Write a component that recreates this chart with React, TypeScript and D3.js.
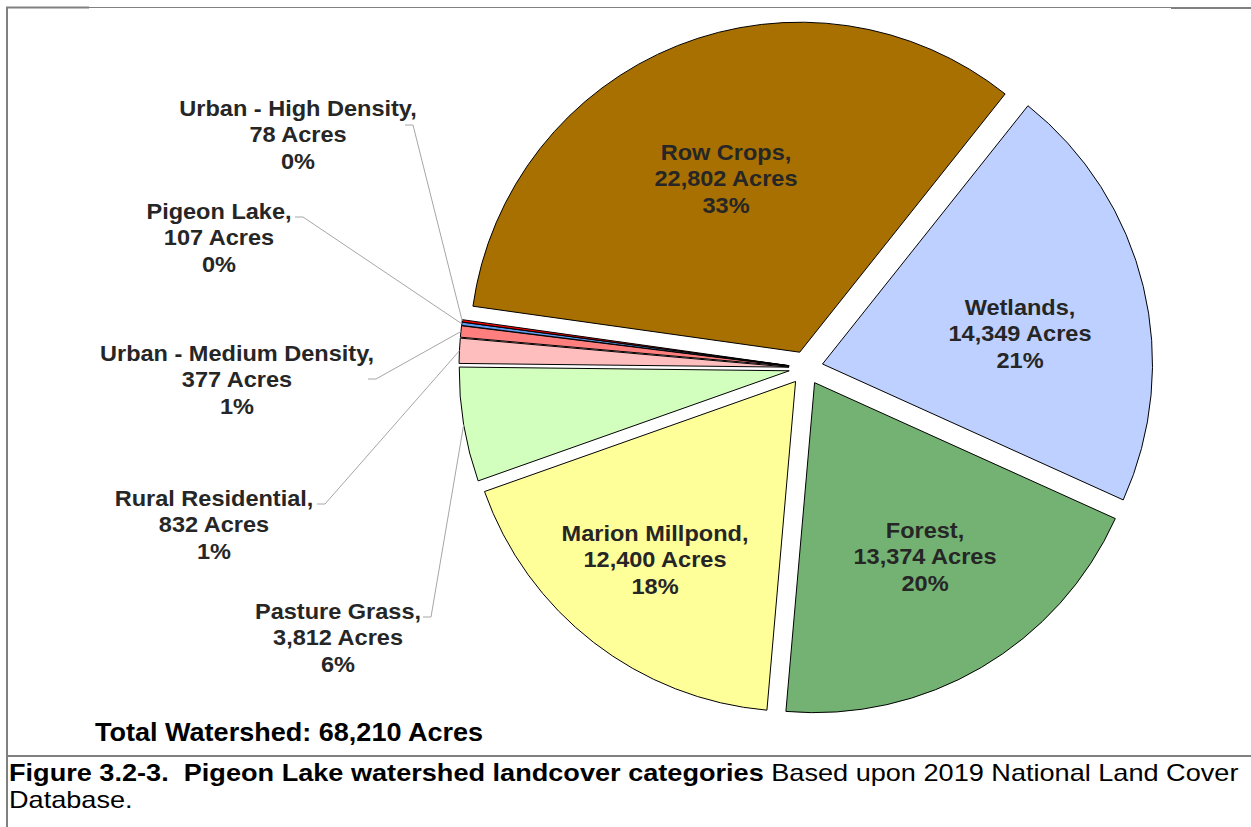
import React from "react";
import * as d3 from "d3";

// landcover categories, in the order they run clockwise from the Wetlands edge
const categories = [
  "Wetlands",
  "Forest",
  "Marion Millpond",
  "Pasture Grass",
  "Rural Residential",
  "Urban - Medium Density",
  "Pigeon Lake",
  "Urban - High Density",
  "Row Crops",
];
const acres = [14349, 13374, 12400, 3812, 832, 377, 107, 78, 22802];
const totalAcres = 68210;
const sliceColors = [
  "#BDD0FF",
  "#73B273",
  "#FFFF99",
  "#D3FFBE",
  "#FFBEBE",
  "#FF7F7F",
  "#5B9BF0",
  "#FF0000",
  "#A87000",
];

// label placement (Excel manual positions): text centre x, first line y,
// and for outside labels where the leader line leaves the text
const labelLayout: Record<string, { x: number; y: number; lead?: [number, number] }> = {
  Wetlands: { x: 1020, y: 307 },
  Forest: { x: 925, y: 530 },
  "Marion Millpond": { x: 655, y: 533 },
  "Row Crops": { x: 726, y: 152 },
  "Pasture Grass": { x: 338, y: 611, lead: [423, 617] },
  "Rural Residential": { x: 214, y: 498, lead: [317, 504] },
  "Urban - Medium Density": { x: 237, y: 353, lead: [368, 379] },
  "Pigeon Lake": { x: 219, y: 211, lead: [295, 217] },
  "Urban - High Density": { x: 298, y: 108, lead: [405, 125] },
};

const W = 1251;
const H = 827;
const cx = 806;
const cy = 368;
const R = 330;
const explode = 17;
const startDeg = 38.5;
const font = "Arial, 'Liberation Sans', sans-serif";

export default function App() {
  const rows = categories.map((name, i) => ({ name, value: acres[i], color: sliceColors[i] }));
  const pie = d3
    .pie<any>()
    .sort(null)
    .value((d) => d.value)
    .startAngle((startDeg * Math.PI) / 180)
    .endAngle((startDeg * Math.PI) / 180 + 2 * Math.PI);
  const arcs = pie(rows);
  const arc = d3.arc<any>().innerRadius(0).outerRadius(R);
  const fmt = d3.format(",");

  return (
    <svg
      width={W}
      height={H}
      style={{ position: "absolute", left: 0, top: 0, background: "#fff" }}
    >
      {/* frame */}
      <g stroke="#808080" fill="none">
        <line x1={7} y1={7.5} x2={1251} y2={7.5} strokeWidth={1} />
        <line x1={6} y1={7.5} x2={89} y2={7.5} strokeWidth={2} />
        <line x1={1171} y1={8} x2={1251} y2={8} strokeWidth={2} />
        <line x1={7} y1={7} x2={7} y2={827} strokeWidth={2} />
        <line x1={7} y1={756} x2={1251} y2={756} strokeWidth={2} />
      </g>

      {arcs.map((a, i) => {
        const mid = (a.startAngle + a.endAngle) / 2;
        const dx = explode * Math.sin(mid);
        const dy = -explode * Math.cos(mid);
        return (
          <g key={i} transform={`translate(${cx + dx},${cy + dy})`}>
            <path d={arc(a) as string} fill={a.data.color} stroke="#000" strokeWidth={1} strokeLinejoin="round" />
          </g>
        );
      })}

      {/* leader lines */}
      {arcs.map((a, i) => {
        const lay = labelLayout[a.data.name];
        if (!lay.lead) return null;
        const mid = (a.startAngle + a.endAngle) / 2;
        const ex = cx + (R + explode) * Math.sin(mid);
        const ey = cy - (R + explode) * Math.cos(mid);
        const [lx, ly] = lay.lead;
        return (
          <polyline
            key={"l" + i}
            points={`${lx},${ly} ${lx + 8},${ly} ${ex},${ey}`}
            fill="none"
            stroke="#A6A6A6"
            strokeWidth={1}
          />
        );
      })}

      {/* data labels */}
      {arcs.map((a, i) => {
        const lay = labelLayout[a.data.name];
        const pct = Math.round((a.data.value / totalAcres) * 100) + "%";
        const lines = [a.data.name + ",", fmt(a.data.value) + " Acres", pct];
        return (
          <text
            key={"t" + i}
            transform={`translate(${lay.x},0) scale(1.07,1)`}
            textAnchor="middle"
            fontFamily={font}
            fontWeight="bold"
            fontSize={22}
            fill="#262626"
          >
            {lines.map((s, j) => (
              <tspan key={j} x={0} y={lay.y + j * 26.7} dy="0.35em">
                {s}
              </tspan>
            ))}
          </text>
        );
      })}

      <text
        transform="translate(95,741) scale(1.04,1)"
        fontFamily={font}
        fontWeight="bold"
        fontSize={26}
        fill="#000"
      >
        Total Watershed: {fmt(totalAcres)} Acres
      </text>

      <g transform="translate(9,0) scale(1.13,1)" fontFamily={font} fontSize={24} fill="#000">
        <text x={0} y={781}>
          <tspan fontWeight="bold">Figure 3.2-3.{"\u00a0\u00a0"}Pigeon Lake watershed landcover categories</tspan>
          <tspan> Based upon 2019 National Land Cover</tspan>
        </text>
        <text x={0} y={808}>
          Database.
        </text>
      </g>
    </svg>
  );
}
